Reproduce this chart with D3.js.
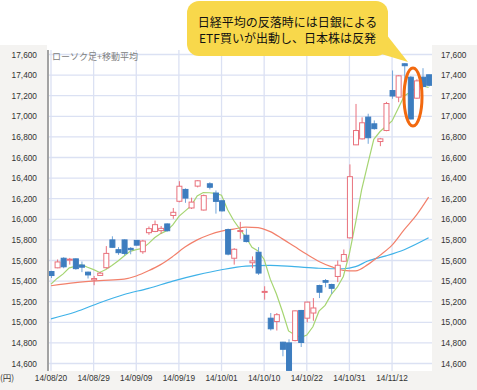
<!DOCTYPE html>
<html>
<head>
<meta charset="utf-8">
<script src="https://cdn.jsdelivr.net/npm/d3@7"></script>
<style>
  body { margin: 0; background: #fff; }
  svg { display: block; }
</style>
</head>
<body>
<svg id="chart"></svg>
<script>
// Chart data (Nikkei 225, daily candles 14/08/20 - 14/11/20)
let dates = ['14/08/20','14/08/21','14/08/22','14/08/25','14/08/26','14/08/27','14/08/28','14/08/29',
  '14/09/01','14/09/02','14/09/03','14/09/04','14/09/05','14/09/08','14/09/09',
  '14/09/10','14/09/11','14/09/12','14/09/16','14/09/17','14/09/18','14/09/19',
  '14/09/22','14/09/24','14/09/25','14/09/26','14/09/29','14/09/30','14/10/01',
  '14/10/02','14/10/03','14/10/06','14/10/07','14/10/08','14/10/09','14/10/10',
  '14/10/14','14/10/15','14/10/16','14/10/17','14/10/20','14/10/21','14/10/22',
  '14/10/23','14/10/24','14/10/27','14/10/28','14/10/29','14/10/30','14/10/31',
  '14/11/04','14/11/05','14/11/06','14/11/07','14/11/10','14/11/11','14/11/12',
  '14/11/13','14/11/14','14/11/17','14/11/18','14/11/19','14/11/20'];

let open = [15493,15529,15622,15605,15616,15556,15487,15412,15455,15530,15800,15705,15800,15718,15795,
  15685,15870,15882,15890,15955,16037,16175,16290,16110,16322,16090,16345,16255,16180,
  15900,15622,15882,15845,15578,15680,15293,15040,15008,14807,14800,14823,15115,15040,
  15090,15357,15405,15367,15445,15593,15820,16723,16781,16992,16927,16755,16862,17250,
  17186,17510,17380,17176,17380,17403];
let high = [15500,15610,15632,15625,15620,15590,15492,15450,15490,15740,15835,15730,15805,15730,15800,
  15800,15930,15988,15935,15960,16110,16370,16300,16210,16380,16240,16360,16280,16185,
  15910,15720,15975,15910,15640,15730,15350,15090,15090,14810,14835,15115,15120,15200,
  15235,15365,15420,15375,15600,15707,16533,17120,16990,17025,16960,16790,17140,17445,
  17400,17515,17390,17360,17467,17405];
let low = [15430,15525,15525,15560,15510,15487,15425,15360,15450,15520,15725,15655,15650,15660,15745,
  15665,15850,15875,15860,15880,16005,16165,16160,16100,16310,16085,16290,16055,16075,
  15650,15560,15810,15775,15525,15460,15220,14920,14920,14670,14510,14815,14760,15000,
  15015,15235,15340,15275,15390,15585,15815,16720,16775,16733,16870,16710,16855,17170,
  17137,17260,16970,17170,17280,17290];
let close = [15454,15586,15539,15613,15521,15535,15460,15425,15477,15669,15728,15676,15669,15705,15749,
  15789,15909,15948,15912,15889,16068,16321,16206,16167,16374,16230,16311,16174,16082,
  15662,15709,15891,15784,15596,15478,15300,14937,15074,14738,14533,15111,14804,15196,
  15139,15292,15389,15330,15554,15658,16414,16862,16937,16792,16880,16781,17124,17197,
  17393,17491,16974,17344,17289,17301];

// 5-day moving average (one value per day)
let ma5 = [15371,15426,15470,15528,15543,15559,15534,15511,15484,15513,15552,15595,15644,15689,15705,
  15718,15764,15820,15861,15889,15945,16028,16079,16130,16227,16260,16258,16251,16234,
  16092,15988,15904,15826,15728,15692,15610,15419,15277,15105,14916,14879,14852,14876,
  14957,15108,15164,15269,15341,15445,15669,15964,16285,16533,16777,16850,16903,16955,
  17075,17197,17236,17280,17298,17280];

// 25-day and 75-day moving averages, read at these day positions
let ma25Days = [0,4,8,12,14,16,18,20,22,24,26,28,30,32,34,36,38,40,42,44,46,48,50,52,54,56,58,60,62];
let ma25 = [15355,15385,15405,15420,15450,15500,15560,15640,15730,15800,15850,15885,15905,15925,15920,
  15880,15810,15735,15660,15590,15540,15505,15500,15560,15650,15750,15900,16040,16215];
let ma75Days = [0,4,8,12,16,20,24,28,32,36,40,44,48,50,52,55,58,62];
let ma75 = [15034,15100,15190,15270,15330,15400,15460,15510,15545,15553,15540,15525,15520,15540,15595,
  15645,15705,15820];

let yTicks = [14600,14800,15000,15200,15400,15600,15800,16000,16200,16400,16600,16800,17000,17200,17400,17600];
let xTickIdx = [0,7,14,21,28,35,42,49,56];

let calloutLines = ['日経平均の反落時には日銀による', 'ETF買いが出動し、日本株は反発'];

// Dimensions
let width = 477, height = 390;
let plotLeft = 49, plotRight = 432, plotTop = 50, plotBottom = 371;

let svg = d3.select('#chart').attr('width', width).attr('height', height);

let x = d3.scaleLinear().domain([0, 62]).range([51, 428.6]);
let y = d3.scaleLinear().domain([14600, 17600]).range([363.5, 54.5]);

// Axis panels
let panel = '#f4f3f1';
svg.append('rect').attr('x', 0).attr('y', 45).attr('width', 47).attr('height', height - 45).attr('fill', panel);
svg.append('rect').attr('x', plotRight).attr('y', 45).attr('width', width - plotRight).attr('height', height - 45).attr('fill', panel);
svg.append('rect').attr('x', 0).attr('y', plotBottom).attr('width', width).attr('height', height - plotBottom).attr('fill', panel);

// Grid
let grid = svg.append('g').attr('stroke', '#dbe1f3').attr('stroke-width', 1.3);
grid.selectAll('.h').data(yTicks).enter().append('line')
  .attr('x1', plotLeft).attr('x2', plotRight)
  .attr('y1', d => y(d)).attr('y2', d => y(d));
grid.selectAll('.v').data(xTickIdx).enter().append('line')
  .attr('x1', d => x(d)).attr('x2', d => x(d))
  .attr('y1', plotTop).attr('y2', plotBottom);

// left axis line
svg.append('rect').attr('x', 47).attr('y', plotTop).attr('width', 2).attr('height', plotBottom - plotTop).attr('fill', '#a3a3a3');

// Axis labels
let numFmt = d3.format(',');
svg.append('g').selectAll('text').data(yTicks).enter().append('text')
  .attr('x', 37).attr('y', d => y(d) + 3)
  .attr('text-anchor', 'end')
  .attr('font-family', 'Liberation Sans, Arial, sans-serif').attr('font-size', 8.3).attr('fill', '#333')
  .text(d => numFmt(d));
svg.append('g').selectAll('text').data(yTicks).enter().append('text')
  .attr('x', 441).attr('y', d => y(d) + 3)
  .attr('font-family', 'Liberation Sans, Arial, sans-serif').attr('font-size', 8.3).attr('fill', '#333')
  .text(d => numFmt(d));
svg.append('g').selectAll('text').data(xTickIdx).enter().append('text')
  .attr('x', d => x(d)).attr('y', 381)
  .attr('text-anchor', 'middle')
  .attr('font-family', 'Liberation Sans, Arial, sans-serif').attr('font-size', 8.3).attr('fill', '#333')
  .text(d => dates[d]);
svg.append('text').attr('x', 0).attr('y', 381)
  .attr('font-family', 'Noto Sans CJK JP, sans-serif').attr('font-size', 8.5).attr('fill', '#333')
  .text('(円)');

// Title inside plot
svg.append('text').attr('x', 52).attr('y', 59.5)
  .attr('font-family', 'Noto Sans CJK JP, sans-serif').attr('font-size', 9).attr('fill', '#808080')
  .text('ローソク足+移動平均');

// Clip for plot content
svg.append('clipPath').attr('id', 'plotClip').append('rect')
  .attr('x', plotLeft).attr('y', plotTop).attr('width', plotRight - plotLeft).attr('height', plotBottom - plotTop);
let plot = svg.append('g').attr('clip-path', 'url(#plotClip)');

// Moving averages
let line = d3.line().curve(d3.curveMonotoneX);
plot.append('path')
  .attr('d', line(ma75Days.map((d, i) => [x(d), y(ma75[i])])))
  .attr('fill', 'none').attr('stroke', '#3fb2e8').attr('stroke-width', 1.2);
plot.append('path')
  .attr('d', line(ma25Days.map((d, i) => [x(d), y(ma25[i])])))
  .attr('fill', 'none').attr('stroke', '#f2806b').attr('stroke-width', 1.2);
plot.append('path')
  .attr('d', d3.line().x((d, i) => x(i)).y(d => y(d))(ma5))
  .attr('fill', 'none').attr('stroke', '#a6d572').attr('stroke-width', 1.2);

// Candles
let candles = plot.selectAll('.candle').data(dates).enter().append('g');
let upCol = '#e9717c', downCol = '#3d7dbf', downWick = '#72a6da';
candles.append('line')
  .attr('x1', (d, i) => x(i) + 0.5).attr('x2', (d, i) => x(i) + 0.5)
  .attr('y1', (d, i) => y(high[i])).attr('y2', (d, i) => y(low[i]))
  .attr('stroke', (d, i) => close[i] >= open[i] ? upCol : downWick).attr('stroke-width', 1);
candles.append('rect')
  .attr('x', (d, i) => x(i) - 2)
  .attr('y', (d, i) => y(Math.max(open[i], close[i])))
  .attr('width', 5)
  .attr('height', (d, i) => Math.max(1, Math.abs(y(open[i]) - y(close[i]))))
  .attr('fill', (d, i) => close[i] >= open[i] ? '#fff' : downCol)
  .attr('stroke', (d, i) => close[i] >= open[i] ? upCol : downCol)
  .attr('stroke-width', 1);

// Callout bubble
let bubble = svg.append('g');
bubble.append('path')
  .attr('d', 'M368,50 L386,34 L408,62 Z')
  .attr('fill', '#f8d84b');
bubble.append('rect').attr('x', 187).attr('y', 1).attr('width', 201).attr('height', 55).attr('rx', 12)
  .attr('fill', '#f8d84b');
bubble.selectAll('text').data(calloutLines).enter().append('text')
  .attr('x', 287.5).attr('y', (d, i) => 27 + i * 15.5)
  .attr('text-anchor', 'middle')
  .attr('font-family', 'Noto Sans CJK JP, sans-serif').attr('font-size', 12).attr('fill', '#111')
  .text(d => d);

// Highlight ellipse around the 11/17 drop
svg.append('ellipse').attr('cx', 413).attr('cy', 97).attr('rx', 9).attr('ry', 29)
  .attr('fill', 'none').attr('stroke', '#f2690f').attr('stroke-width', 3);
</script>
</body>
</html>
